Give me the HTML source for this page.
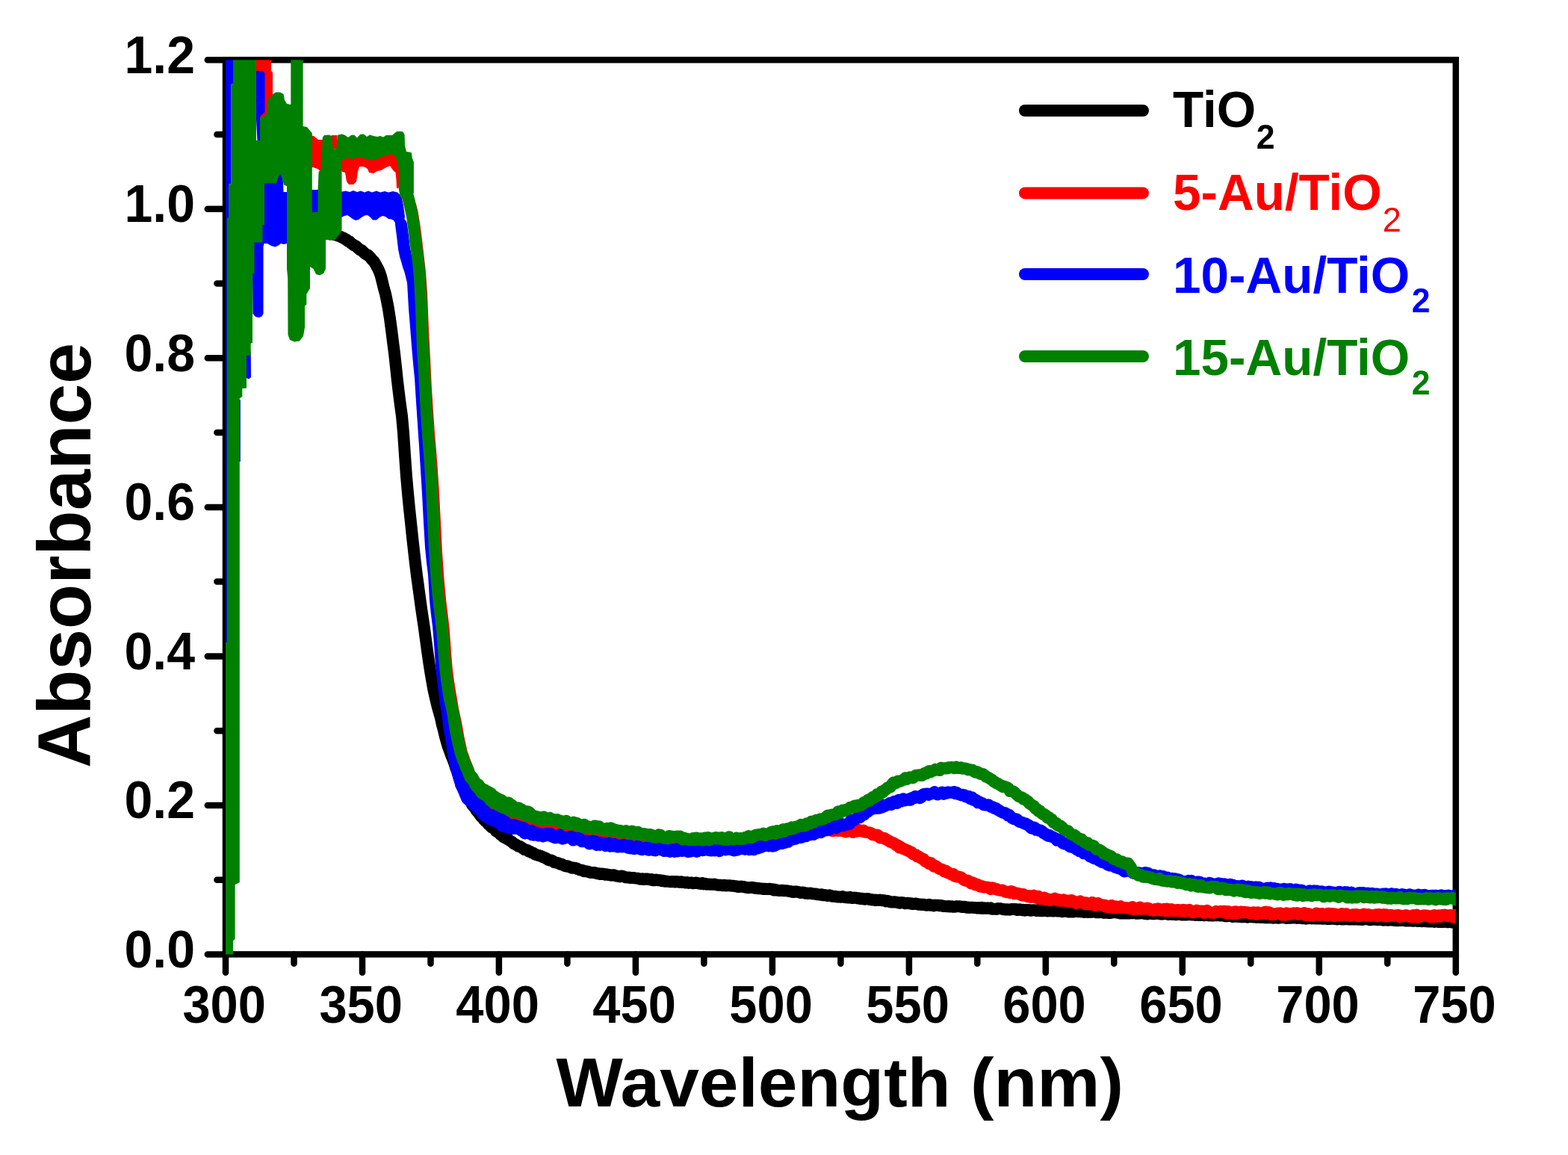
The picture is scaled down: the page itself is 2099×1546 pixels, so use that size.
<!DOCTYPE html>
<html><head><meta charset="utf-8"><title>Absorbance spectra</title>
<style>html,body{margin:0;padding:0;background:#fff;}svg{display:block;}</style>
</head><body>
<svg width="2099" height="1546" viewBox="0 0 2099 1546">
<defs><clipPath id="plotclip"><rect x="302" y="80.2" width="1646.8" height="1197.2"/></clipPath></defs>
<rect width="2099" height="1546" fill="#fff"/>
<rect x="302" y="80.2" width="1646.8" height="1197.2" fill="none" stroke="#000" stroke-width="8.5"/>
<path d="M302 1277.5H277.8M302 1177.7H290.4M302 1078H277.8M302 978.2H290.4M302 878.4H277.8M302 778.6H290.4M302 678.9H277.8M302 579.1H290.4M302 479.3H277.8M302 379.6H290.4M302 279.8H277.8M302 180H290.4M302 80.2H277.8M302 1277.5V1301.8M393.5 1277.5V1289.8M485 1277.5V1301.8M576.5 1277.5V1289.8M667.9 1277.5V1301.8M759.4 1277.5V1289.8M850.9 1277.5V1301.8M942.4 1277.5V1289.8M1033.9 1277.5V1301.8M1125.4 1277.5V1289.8M1216.9 1277.5V1301.8M1308.3 1277.5V1289.8M1399.8 1277.5V1301.8M1491.3 1277.5V1289.8M1582.8 1277.5V1301.8M1674.3 1277.5V1289.8M1765.8 1277.5V1301.8M1857.3 1277.5V1289.8M1948.8 1277.5V1301.8" stroke="#000" stroke-width="8.5" fill="none" stroke-linecap="round"/>
<g clip-path="url(#plotclip)" stroke-linejoin="round" stroke-linecap="round" fill="none">
<path d="M440 312.9 L442 313.5 L444 312.9 L446 313.7 L448 314 L450 314.5 L452 315.3 L454 316.1 L456 316.9 L458 317.9 L460 318.7 L462 320.2 L464 320.9 L466 323 L468 323.4 L470 325.6 L472 326.8 L474 328.4 L476 329.2 L478 330.7 L480 332.8 L482 334.4 L484 335 L486 337 L488 338.8 L490 340.5 L492 341.2 L494 342.9 L496 344.9 L498 347.8 L500 349.2 L502 352.3 L504 356.1 L506 359.5 L508 364.2 L510 370 L512 378.2 L514 386.3 L516 393.4 L518 403.1 L520 413.6 L522 426.6 L524 441.4 L526 457.4 L528 472.8 L530 491.2 L532 510 L534 526.8 L536 542.6 L538 556.9 L540 579.3 L542 609.5 L544 637.5 L546 660.3 L548 680.8 L550 699.5 L552 718.9 L554 736.6 L556 754.3 L558 770.5 L560 784.8 L562 799.7 L564 814.3 L566 827.8 L568 841.2 L570 856.2 L572 871 L574 884.8 L576 898 L578 909.6 L580 921.2 L582 930.3 L584 938.8 L586 947.1 L588 953.9 L590 961.2 L592 970.2 L594 977.7 L596 986.2 L598 993.3 L600 999.8 L602 1005.2 L604 1010.8 L606 1015.6 L608 1020.8 L610 1027.1 L612 1032.5 L614 1039.2 L616 1044.8 L618 1050.1 L620 1054.1 L622 1059.4 L624 1062.8 L626 1066.7 L628 1070 L630 1073.1 L632 1077 L634 1079.6 L636 1081.7 L638 1085.1 L640 1087.3 L642 1090 L644 1092.8 L646 1094.5 L648 1097.4 L650 1099.2 L652 1100.5 L654 1103.5 L656 1105.1 L658 1107.3 L660 1108.1 L662 1109.8 L664 1112.4 L666 1113.8 L668 1114.7 L670 1117.1 L672 1118.6 L674 1120.3 L676 1121.5 L678 1122.2 L680 1123.5 L682 1124.8 L684 1126 L686 1127.5 L688 1129.4 L690 1130.2 L692 1131.3 L694 1132.8 L696 1133 L698 1134.2 L700 1135.6 L702 1137.1 L704 1137.5 L706 1137.8 L708 1139.7 L710 1139.9 L712 1141.5 L714 1141.9 L716 1143.4 L718 1144.1 L720 1144.8 L722 1145.2 L724 1145.9 L726 1146.9 L728 1147.6 L730 1148.5 L732 1149.5 L734 1150.9 L736 1151.5 L738 1151.6 L740 1152.4 L742 1154.2 L744 1154.5 L746 1154.8 L748 1155.5 L750 1156.8 L752 1156.8 L754 1157.9 L756 1159 L758 1159.5 L760 1159.3 L762 1160.2 L764 1161 L766 1161.8 L768 1161.5 L770 1161.9 L772 1162.5 L774 1163.5 L776 1164.2 L778 1164.7 L780 1164.9 L782 1166.2 L784 1166.2 L786 1166.4 L788 1167.1 L790 1167.8 L792 1168.1 L794 1168 L796 1168.1 L798 1168.8 L800 1169.4 L802 1169.2 L804 1170.1 L806 1169.5 L808 1169.9 L810 1170.8 L812 1170.3 L814 1171 L816 1171.1 L818 1171.8 L820 1171.2 L822 1171.2 L824 1172.3 L826 1172.6 L828 1173 L830 1173.3 L832 1172.5 L834 1173 L836 1173.7 L838 1174.4 L840 1174.6 L842 1174.4 L844 1175.1 L846 1175 L848 1174.9 L850 1175.3 L852 1175.6 L854 1175.8 L856 1176.5 L858 1176.7 L860 1176.2 L862 1177.1 L864 1176.4 L866 1176.5 L868 1176.7 L870 1177.4 L872 1177 L874 1178.3 L876 1178.3 L878 1177.5 L880 1177.9 L882 1178.3 L884 1178.2 L886 1179.2 L888 1178.8 L890 1179.7 L892 1179.4 L894 1179.9 L896 1180.1 L898 1180.3 L900 1179.9 L902 1180.2 L904 1180.6 L906 1180.1 L908 1180.5 L910 1180.8 L912 1180.2 L914 1181.1 L916 1181 L918 1181.6 L920 1181.1 L922 1181.9 L924 1181.7 L926 1181.4 L928 1182.2 L930 1182.1 L932 1181.6 L934 1182.2 L936 1182.6 L938 1183 L940 1182.1 L942 1183.4 L944 1182.8 L946 1183.7 L948 1183.4 L950 1183.8 L952 1183.7 L954 1183.9 L956 1183.6 L958 1184.1 L960 1184.5 L962 1184.8 L964 1184.8 L966 1184.9 L968 1185.3 L970 1184.8 L972 1185.4 L974 1185.3 L976 1185.3 L978 1185.5 L980 1185.7 L982 1185.8 L984 1186.3 L986 1186.2 L988 1187 L990 1186.9 L992 1186.5 L994 1186.9 L996 1187 L998 1187.7 L1000 1188 L1002 1188.2 L1004 1188.1 L1006 1187.8 L1008 1187.9 L1010 1188.8 L1012 1188.6 L1014 1189.2 L1016 1189.1 L1018 1189.4 L1020 1189.4 L1022 1189.9 L1024 1189.8 L1026 1189.9 L1028 1189.9 L1030 1189.8 L1032 1190.3 L1034 1190.2 L1036 1191.5 L1038 1190.7 L1040 1191.6 L1042 1191.9 L1044 1191.9 L1046 1192 L1048 1191.7 L1050 1192.2 L1052 1192.3 L1054 1192.3 L1056 1193 L1058 1192.9 L1060 1193.8 L1062 1194 L1064 1193.4 L1066 1193.5 L1068 1193.8 L1070 1194.4 L1072 1194.9 L1074 1194.5 L1076 1194.7 L1078 1195.7 L1080 1195.4 L1082 1195.9 L1084 1195.6 L1086 1195.7 L1088 1196.4 L1090 1196.6 L1092 1196.4 L1094 1197.2 L1096 1197.4 L1098 1197.7 L1100 1197.3 L1102 1198.3 L1104 1197.9 L1106 1198.4 L1108 1199 L1110 1198.3 L1112 1198.8 L1114 1199.7 L1116 1199.9 L1118 1199.7 L1120 1200.3 L1122 1200.6 L1124 1200.6 L1126 1200.8 L1128 1200.1 L1130 1200.9 L1132 1201.2 L1134 1201.2 L1136 1201.6 L1138 1200.9 L1140 1201.9 L1142 1202 L1144 1201.6 L1146 1201.8 L1148 1202.4 L1150 1202.2 L1152 1203 L1154 1202.7 L1156 1203.3 L1158 1203.7 L1160 1203.1 L1162 1203 L1164 1204.1 L1166 1203.9 L1168 1204.6 L1170 1204.4 L1172 1205 L1174 1204.7 L1176 1204.9 L1178 1204.6 L1180 1205.2 L1182 1205 L1184 1205.4 L1186 1206.4 L1188 1205.8 L1190 1206.5 L1192 1207.3 L1194 1207.4 L1196 1207.6 L1198 1207.2 L1200 1207.7 L1202 1208.1 L1204 1208.8 L1206 1208 L1208 1208.2 L1210 1208.4 L1212 1209.2 L1214 1209 L1216 1208.7 L1218 1209.4 L1220 1209.2 L1222 1210.1 L1224 1209.7 L1226 1209.5 L1228 1210.3 L1230 1210.8 L1232 1210.4 L1234 1211 L1236 1210.8 L1238 1211 L1240 1211.7 L1242 1211.6 L1244 1210.8 L1246 1211.8 L1248 1211.6 L1250 1212.4 L1252 1211.6 L1254 1211.8 L1256 1211.7 L1258 1212.3 L1260 1212 L1262 1212.8 L1264 1213.1 L1266 1213.1 L1268 1213.3 L1270 1212.9 L1272 1213.6 L1274 1213.2 L1276 1213.8 L1278 1213.7 L1280 1213.2 L1282 1213.3 L1284 1213.3 L1286 1213.5 L1288 1214.1 L1290 1213.8 L1292 1213.8 L1294 1214.7 L1296 1214.4 L1298 1214.9 L1300 1214.7 L1302 1214.8 L1304 1214.9 L1306 1215 L1308 1215.5 L1310 1215.1 L1312 1215.8 L1314 1214.9 L1316 1215.9 L1318 1215.2 L1320 1215.9 L1322 1215.3 L1324 1216 L1326 1215.4 L1328 1216.7 L1330 1216.7 L1332 1216.7 L1334 1216.9 L1336 1216.1 L1338 1216.2 L1340 1216.3 L1342 1216.9 L1344 1217.3 L1346 1217.5 L1348 1217.3 L1350 1217.4 L1352 1217.7 L1354 1217.1 L1356 1217 L1358 1217 L1360 1217 L1362 1218 L1364 1217.2 L1366 1217.5 L1368 1218.2 L1370 1217.7 L1372 1218.6 L1374 1217.8 L1376 1218.2 L1378 1218 L1380 1218.8 L1382 1218.2 L1384 1218.3 L1386 1218.5 L1388 1219.1 L1390 1218.1 L1392 1219 L1394 1219.3 L1396 1218.3 L1398 1219 L1400 1218.8 L1402 1219.5 L1404 1219.2 L1406 1219.4 L1408 1219.2 L1410 1219.5 L1412 1219.2 L1414 1218.9 L1416 1219.6 L1418 1219.4 L1420 1219.7 L1422 1220.2 L1424 1219.7 L1426 1219.5 L1428 1219.8 L1430 1220.5 L1432 1220.6 L1434 1220.5 L1436 1220.6 L1438 1219.9 L1440 1219.8 L1442 1220 L1444 1220.2 L1446 1220 L1448 1220.6 L1450 1220.4 L1452 1221 L1454 1220.3 L1456 1221 L1458 1220.5 L1460 1220.9 L1462 1220.7 L1464 1220.4 L1466 1220.7 L1468 1221.2 L1470 1221.1 L1472 1221.2 L1474 1220.8 L1476 1221.3 L1478 1221.9 L1480 1221.7 L1482 1221.5 L1484 1222 L1486 1222 L1488 1221.7 L1490 1221.1 L1492 1221.2 L1494 1221.2 L1496 1221.7 L1498 1221.7 L1500 1222.5 L1502 1221.6 L1504 1222.6 L1506 1222.4 L1508 1222.5 L1510 1222.3 L1512 1222.4 L1514 1222.3 L1516 1221.7 L1518 1222.2 L1520 1222.4 L1522 1222.8 L1524 1222.5 L1526 1222.5 L1528 1222.2 L1530 1222.1 L1532 1223 L1534 1222.6 L1536 1223.4 L1538 1222.5 L1540 1222.7 L1542 1223 L1544 1223.3 L1546 1223 L1548 1222.7 L1550 1222.9 L1552 1223.2 L1554 1223.5 L1556 1223.6 L1558 1222.9 L1560 1222.8 L1562 1223.5 L1564 1223.9 L1566 1223 L1568 1223.8 L1570 1223.9 L1572 1223.7 L1574 1224.3 L1576 1224 L1578 1223.3 L1580 1223.9 L1582 1224.4 L1584 1224.4 L1586 1224.3 L1588 1224.4 L1590 1224.3 L1592 1224 L1594 1224.4 L1596 1224.6 L1598 1224.3 L1600 1224.9 L1602 1224.2 L1604 1224.9 L1606 1224.4 L1608 1225.1 L1610 1224.7 L1612 1225.3 L1614 1224.8 L1616 1224.7 L1618 1225.4 L1620 1225 L1622 1225.6 L1624 1225.6 L1626 1225.1 L1628 1225.2 L1630 1225.2 L1632 1225.2 L1634 1225.6 L1636 1225.3 L1638 1225.5 L1640 1226.2 L1642 1226.4 L1644 1225.7 L1646 1225.9 L1648 1226 L1650 1226.9 L1652 1226.8 L1654 1226.6 L1656 1226.4 L1658 1227.1 L1660 1226.7 L1662 1227.4 L1664 1227.2 L1666 1227 L1668 1226.7 L1670 1227.8 L1672 1226.9 L1674 1227 L1676 1227.3 L1678 1227.4 L1680 1227.1 L1682 1227.9 L1684 1227.3 L1686 1227.9 L1688 1228.1 L1690 1227.5 L1692 1228 L1694 1228.3 L1696 1228.2 L1698 1228.2 L1700 1227.9 L1702 1228.4 L1704 1228.7 L1706 1228.2 L1708 1228.6 L1710 1227.8 L1712 1228.8 L1714 1228.1 L1716 1228.3 L1718 1228.3 L1720 1228 L1722 1229.1 L1724 1228.5 L1726 1228.7 L1728 1228.7 L1730 1228.3 L1732 1228.4 L1734 1228.3 L1736 1228.9 L1738 1228.6 L1740 1228.7 L1742 1228.5 L1744 1229.3 L1746 1228.5 L1748 1229.6 L1750 1228.7 L1752 1229.2 L1754 1228.6 L1756 1229.5 L1758 1228.8 L1760 1229.3 L1762 1229.6 L1764 1228.9 L1766 1229.4 L1768 1229 L1770 1229.7 L1772 1229.7 L1774 1229.1 L1776 1230 L1778 1229 L1780 1230 L1782 1229.7 L1784 1229.6 L1786 1230 L1788 1230 L1790 1230.4 L1792 1229.6 L1794 1229.3 L1796 1230.4 L1798 1230.4 L1800 1230.3 L1802 1230.1 L1804 1230.3 L1806 1230.5 L1808 1230 L1810 1230.6 L1812 1230.6 L1814 1230.5 L1816 1230.3 L1818 1230.7 L1820 1229.9 L1822 1230.8 L1824 1231 L1826 1230.3 L1828 1230.2 L1830 1230.4 L1832 1230.5 L1834 1231.3 L1836 1230.9 L1838 1230.7 L1840 1230.5 L1842 1230.8 L1844 1231.2 L1846 1230.9 L1848 1231.1 L1850 1231.2 L1852 1231.7 L1854 1231.3 L1856 1231.2 L1858 1231.7 L1860 1231.2 L1862 1231.5 L1864 1231.4 L1866 1231.8 L1868 1232.2 L1870 1231.7 L1872 1232.2 L1874 1231.9 L1876 1232.1 L1878 1231.6 L1880 1232 L1882 1232.6 L1884 1232.3 L1886 1232.6 L1888 1232.3 L1890 1232.4 L1892 1232.8 L1894 1232 L1896 1232.6 L1898 1233.1 L1900 1232.7 L1902 1232.4 L1904 1233.2 L1906 1232.6 L1908 1233.2 L1910 1233 L1912 1233.6 L1914 1233.3 L1916 1233.6 L1918 1232.6 L1920 1233.9 L1922 1232.9 L1924 1233.2 L1926 1234 L1928 1233 L1930 1234 L1932 1234.1 L1934 1233.7 L1936 1233.5 L1938 1234.3 L1940 1233.9 L1942 1233.6 L1944 1234.6 L1946 1234.6 L1948 1234.2 L1950 1234.7" stroke="#000000" stroke-width="16"/>
<path d="M343 78 L363 78 L363 95 L365 97 L365 128 L360 135 L359 156 L355 156 L343 160Z" fill="#ff0000" stroke="none"/>
<path d="M414 181 L420 182 L426 187 L432 187 L432 224 L429 229 L425 226 L419 224 L414 224Z" fill="#ff0000" stroke="none"/>
<path d="M444 181 L451 181 L451 199 L447 200 L444 196Z" fill="#ff0000" stroke="none"/>
<path d="M455 205 L535 205 L535 228 L533 252 L531 252 L530 231 L527 229 L522 222 L517 224 L510 228 L505 229 L500 232 L494 231 L492 226 L487 223 L481 223 L479 230 L477 243 L473 247 L467 247 L464 243 L462 231 L458 230 L455 225Z" fill="#ff0000" stroke="none"/>
<path d="M534 213.8 L536 221.9 L538 233.8 L540 244.8 L542 252.3 L544 258.3 L546 264.3 L548 271.6 L550 277.5 L552 286.2 L554 298.6 L556 312.8 L558 329.8 L560 346.9 L562 364.5 L564 392 L566 440.8 L568 480 L570 520.8 L572 551.6 L574 580.2 L576 603.4 L578 629.4 L580 659.9 L582 699.3 L584 739.2 L586 768.1 L588 791.7 L590 811.3 L592 826.8 L594 844.9 L596 874.1 L598 897.6 L600 912.3 L602 925 L604 936.7 L606 948.6 L608 958.3 L610 967.2 L612 978.6 L614 989.8 L616 998.7 L618 1007.9 L620 1013.1 L622 1019.2 L624 1023.9 L626 1029.1 L628 1035.7 L630 1041.7 L632 1049.5 L634 1054.8 L636 1059 L638 1063.4 L640 1067.7 L642 1069.3 L644 1070.9 L646 1073.6 L648 1075.1 L650 1079.2 L652 1080.9 L654 1082.1 L656 1083.2 L658 1085.1 L660 1085 L662 1086.4 L664 1088.1 L666 1088.6 L668 1088.7 L670 1091.7 L672 1091.2 L674 1092 L676 1092.3 L678 1092.8 L680 1093.7 L682 1095.5 L684 1095.8 L686 1095.6 L688 1095.3 L690 1097.8 L692 1097.1 L694 1098.4 L696 1097.6 L698 1099.8 L700 1099.7 L702 1100.6 L704 1101.1 L706 1101.7 L708 1102.9 L710 1104.7 L712 1103.3 L714 1104.5 L716 1104.6 L718 1106.9 L720 1107.3 L722 1106.7 L724 1107.6 L726 1108.6 L728 1109 L730 1108.1 L732 1110.2 L734 1110.2 L736 1109 L738 1111 L740 1111.1 L742 1111.5 L744 1111.2 L746 1110.8 L748 1112.9 L750 1112.5 L752 1112.4 L754 1112.6 L756 1114.6 L758 1113.9 L760 1114.7 L762 1115.3 L764 1116.3 L766 1116.3 L768 1115.7 L770 1117.2 L772 1117.5 L774 1118.2 L776 1119.1 L778 1118.6 L780 1118.9 L782 1119.3 L784 1120.2 L786 1120 L788 1121.9 L790 1121.5 L792 1121.6 L794 1121.8 L796 1122.6 L798 1122.8 L800 1123.3 L802 1124.1 L804 1124.7 L806 1125.7 L808 1126.4 L810 1124.5 L812 1125.2 L814 1126.5 L816 1125.7 L818 1127.7 L820 1126.4 L822 1128 L824 1128.1 L826 1128.7 L828 1127.1 L830 1127.8 L832 1129.2 L834 1128 L836 1128.1 L838 1129.1 L840 1129.9 L842 1128.8 L844 1129 L846 1129.1 L848 1130.1 L850 1130.9 L852 1129.9 L854 1131.7 L856 1130.8 L858 1131.4 L860 1130.7 L862 1131.6 L864 1132.6 L866 1131.5 L868 1131 L870 1131.7 L872 1131.9 L874 1132.2 L876 1132.3 L878 1131.3 L880 1131.7 L882 1132.5 L884 1133.3 L886 1133.5 L888 1133.7 L890 1133.1 L892 1134.3 L894 1132.9 L896 1133.4 L898 1134.1 L900 1134.5 L902 1133.5 L904 1134.7 L906 1133.8 L908 1134.5 L910 1132.9 L912 1133 L914 1135.3 L916 1133.4 L918 1134.8 L920 1134 L922 1133.8 L924 1134.3 L926 1135.7 L928 1134.9 L930 1135.8 L932 1135.3 L934 1134.8 L936 1134.9 L938 1134.2 L940 1133.7 L942 1134.8 L944 1135.1 L946 1135.9 L948 1135.4 L950 1135.8 L952 1136 L954 1136 L956 1135.7 L958 1134 L960 1134.4 L962 1134 L964 1135.5 L966 1135.2 L968 1134 L970 1134.4 L972 1134.8 L974 1134.7 L976 1133.1 L978 1134.2 L980 1134.2 L982 1132.1 L984 1132.1 L986 1132.7 L988 1132 L990 1133.4 L992 1132.8 L994 1132.6 L996 1132.5 L998 1131.3 L1000 1130.8 L1002 1131.6 L1004 1130.9 L1006 1131.9 L1008 1131 L1010 1130.1 L1012 1131 L1014 1129.6 L1016 1128.8 L1018 1130 L1020 1129 L1022 1128.2 L1024 1128.9 L1026 1129.3 L1028 1127.2 L1030 1128.2 L1032 1127.7 L1034 1125.9 L1036 1127.2 L1038 1126 L1040 1124.8 L1042 1125.4 L1044 1124.4 L1046 1123.7 L1048 1123.1 L1050 1122.9 L1052 1122.9 L1054 1122.9 L1056 1120.9 L1058 1121.8 L1060 1119.8 L1062 1119.3 L1064 1119.9 L1066 1119.7 L1068 1119.3 L1070 1117.9 L1072 1116.9 L1074 1115.4 L1076 1116 L1078 1114.7 L1080 1115 L1082 1114.8 L1084 1115 L1086 1113.3 L1088 1114.5 L1090 1114.1 L1092 1113.3 L1094 1112.6 L1096 1112.3 L1098 1112.4 L1100 1112.3 L1102 1111.9 L1104 1111.3 L1106 1110 L1108 1111.3 L1110 1110.7 L1112 1110.4 L1114 1112.2 L1116 1112.2 L1118 1111.6 L1120 1111.6 L1122 1111.9 L1124 1111.5 L1126 1112 L1128 1112.2 L1130 1111.3 L1132 1113.6 L1134 1111.6 L1136 1112.6 L1138 1112 L1140 1112.3 L1142 1114.1 L1144 1112.5 L1146 1113 L1148 1111.1 L1150 1111 L1152 1112.4 L1154 1112.7 L1156 1111.6 L1158 1113.8 L1160 1113.8 L1162 1114.1 L1164 1114.6 L1166 1115.2 L1168 1117.3 L1170 1117.5 L1172 1117.9 L1174 1117.5 L1176 1118.8 L1178 1121.4 L1180 1121.3 L1182 1121.8 L1184 1121.9 L1186 1123.5 L1188 1124.6 L1190 1125.5 L1192 1127 L1194 1127.7 L1196 1128.4 L1198 1129.6 L1200 1131.6 L1202 1131.6 L1204 1134.7 L1206 1133.9 L1208 1135.5 L1210 1136.4 L1212 1137.1 L1214 1138.2 L1216 1138.9 L1218 1140.1 L1220 1140.7 L1222 1143.1 L1224 1144 L1226 1144.2 L1228 1146.6 L1230 1146.5 L1232 1148.2 L1234 1149.1 L1236 1149.8 L1238 1152.5 L1240 1153.5 L1242 1154.7 L1244 1156.1 L1246 1155.1 L1248 1157.4 L1250 1159.6 L1252 1158.8 L1254 1160.2 L1256 1161.9 L1258 1163.3 L1260 1163.4 L1262 1164.3 L1264 1166.4 L1266 1165.5 L1268 1168.2 L1270 1168.3 L1272 1169.6 L1274 1170.7 L1276 1170.1 L1278 1172.8 L1280 1173.5 L1282 1173.3 L1284 1173.7 L1286 1174.2 L1288 1175.7 L1290 1177.5 L1292 1178.7 L1294 1178.4 L1296 1179 L1298 1180.2 L1300 1182.6 L1302 1181.3 L1304 1182.3 L1306 1184.4 L1308 1183.7 L1310 1184.7 L1312 1186.7 L1314 1186 L1316 1187.3 L1318 1187.7 L1320 1187.4 L1322 1187.7 L1324 1188.2 L1326 1190.2 L1328 1188.3 L1330 1188.8 L1332 1189.9 L1334 1189.9 L1336 1191.2 L1338 1191.5 L1340 1191.7 L1342 1191.6 L1344 1192.6 L1346 1193.8 L1348 1194.3 L1350 1193.8 L1352 1195.1 L1354 1193.1 L1356 1193.9 L1358 1196.1 L1360 1195.4 L1362 1195.6 L1364 1196.8 L1366 1196.5 L1368 1198.6 L1370 1197.3 L1372 1199.1 L1374 1198.7 L1376 1200.1 L1378 1199.1 L1380 1201 L1382 1200.1 L1384 1198.6 L1386 1201.3 L1388 1202.1 L1390 1199.8 L1392 1203.1 L1394 1202.1 L1396 1203 L1398 1201.4 L1400 1204.3 L1402 1203.5 L1404 1203.4 L1406 1205.1 L1408 1203.9 L1410 1204.1 L1412 1202.6 L1414 1204.6 L1416 1205.5 L1418 1204.4 L1420 1205.7 L1422 1205.5 L1424 1204.4 L1426 1205.9 L1428 1205.8 L1430 1205.5 L1432 1206.9 L1434 1204.9 L1436 1206.3 L1438 1206.7 L1440 1208.8 L1442 1208 L1444 1208 L1446 1206.5 L1448 1207.7 L1450 1207.7 L1452 1210 L1454 1208.5 L1456 1210.2 L1458 1209.7 L1460 1210.8 L1462 1207.9 L1464 1211.4 L1466 1211.8 L1468 1209.2 L1470 1209.1 L1472 1210.3 L1474 1211.6 L1476 1211.6 L1478 1211.5 L1480 1213.5 L1482 1212.5 L1484 1214.1 L1486 1213.1 L1488 1211.9 L1490 1215 L1492 1215.3 L1494 1213.5 L1496 1214.9 L1498 1214.6 L1500 1213.2 L1502 1214.8 L1504 1215.2 L1506 1215.1 L1508 1215.1 L1510 1215.4 L1512 1216 L1514 1216.3 L1516 1214 L1518 1217.1 L1520 1215.6 L1522 1216.6 L1524 1215.6 L1526 1214.5 L1528 1216.8 L1530 1215.9 L1532 1216.6 L1534 1215.7 L1536 1215.6 L1538 1216 L1540 1218.1 L1542 1218.5 L1544 1218.8 L1546 1216.9 L1548 1218.3 L1550 1216.2 L1552 1218.4 L1554 1217.4 L1556 1219 L1558 1216.8 L1560 1219.1 L1562 1216.5 L1564 1219.4 L1566 1218 L1568 1217.1 L1570 1217.8 L1572 1219.4 L1574 1218.6 L1576 1217.9 L1578 1218 L1580 1219.8 L1582 1219.7 L1584 1217.7 L1586 1220.5 L1588 1218.2 L1590 1218.7 L1592 1217.9 L1594 1219.8 L1596 1221.1 L1598 1221.5 L1600 1219.9 L1602 1218.6 L1604 1220 L1606 1219.5 L1608 1219.6 L1610 1219.4 L1612 1222 L1614 1220.1 L1616 1218.7 L1618 1220.6 L1620 1221.4 L1622 1221.8 L1624 1221.7 L1626 1221.5 L1628 1219.8 L1630 1220.4 L1632 1220.8 L1634 1219.7 L1636 1220.8 L1638 1219.7 L1640 1219.7 L1642 1222.4 L1644 1220.1 L1646 1221.2 L1648 1221.8 L1650 1223 L1652 1220.7 L1654 1220.3 L1656 1222.9 L1658 1220.9 L1660 1220.8 L1662 1220.4 L1664 1221.5 L1666 1220.8 L1668 1221.3 L1670 1221.2 L1672 1222.3 L1674 1221.7 L1676 1222.6 L1678 1221.3 L1680 1221.4 L1682 1223.9 L1684 1221.2 L1686 1223.1 L1688 1223 L1690 1222.8 L1692 1221 L1694 1220.6 L1696 1223.3 L1698 1221 L1700 1221.6 L1702 1224.3 L1704 1224.3 L1706 1224.2 L1708 1223 L1710 1222.6 L1712 1222.7 L1714 1222.3 L1716 1224.6 L1718 1224.1 L1720 1224.8 L1722 1222.3 L1724 1223.4 L1726 1223.8 L1728 1222.8 L1730 1223.5 L1732 1222.2 L1734 1222.7 L1736 1222.1 L1738 1223.9 L1740 1222.9 L1742 1223.3 L1744 1223.1 L1746 1222 L1748 1225.1 L1750 1224.5 L1752 1223.1 L1754 1225.2 L1756 1224.5 L1758 1225.7 L1760 1223.8 L1762 1222.6 L1764 1222.7 L1766 1224.9 L1768 1224.4 L1770 1223.1 L1772 1224.4 L1774 1224.3 L1776 1225.6 L1778 1222.7 L1780 1223 L1782 1224.2 L1784 1223.1 L1786 1226.2 L1788 1223.4 L1790 1225 L1792 1224.4 L1794 1225.6 L1796 1223 L1798 1224 L1800 1224.6 L1802 1223.3 L1804 1225.3 L1806 1224.9 L1808 1226 L1810 1224.6 L1812 1224.1 L1814 1224.3 L1816 1224 L1818 1226.5 L1820 1226.1 L1822 1224.5 L1824 1224.9 L1826 1223.7 L1828 1225.5 L1830 1226 L1832 1224.2 L1834 1225 L1836 1225.9 L1838 1225.1 L1840 1225.5 L1842 1224.2 L1844 1226.4 L1846 1224 L1848 1225.3 L1850 1224.7 L1852 1224.1 L1854 1226.8 L1856 1224.5 L1858 1225.4 L1860 1226 L1862 1224.8 L1864 1225.6 L1866 1225.8 L1868 1225.5 L1870 1225.2 L1872 1224.9 L1874 1227.2 L1876 1225.8 L1878 1226.5 L1880 1226 L1882 1225.1 L1884 1225.8 L1886 1227.1 L1888 1227.3 L1890 1227.5 L1892 1225 L1894 1225.4 L1896 1224.7 L1898 1227.8 L1900 1226.5 L1902 1226.8 L1904 1225.9 L1906 1225.2 L1908 1225.7 L1910 1225.4 L1912 1226.3 L1914 1227.4 L1916 1227.4 L1918 1225.5 L1920 1225.1 L1922 1227.1 L1924 1226 L1926 1225.2 L1928 1226.7 L1930 1225 L1932 1224.9 L1934 1224.6 L1936 1225.3 L1938 1226.3 L1940 1225.2 L1942 1224.9 L1944 1226.4 L1946 1227.9 L1948 1224.7 L1950 1225.5" stroke="#ff0000" stroke-width="16"/>
<path d="M302 78 L312 78 L312 112 L309.6 113 L309.6 246 L306 247 L306 291 L303.7 292 L303.7 860 L302 860Z" fill="#0000ff" stroke="none"/>
<path d="M343 95 L352 95 L354.5 98 L354.5 150 L350 154 L348 157 L348 188 L344.5 188 L343 160Z" fill="#0000ff" stroke="none"/>
<path d="M338 320 L352 300 L354 240 L370 240 L373 234 L376 230.5 L378.5 235 L379.5 257 L384 257 L384.5 300 L384 326 L380 327 L376 326 L372 329 L368 330.5 L363 329 L358 326 L353.5 326 L352.5 330 L352.5 420 L350 424 L346 425 L342 424 L338.5 420 L338 366Z" fill="#0000ff" stroke="none"/>
<path d="M330 470 L335.7 470 L336 505 L333 507.5 L330 506Z" fill="#0000ff" stroke="none"/>
<path d="M319.5 535 L321.8 535 L321.8 618 L319.5 618Z" fill="#0000ff" stroke="none"/>
<path d="M384 254 L400 254 L417 254 L426 254 L440 255 L452 256 L458 256.5 L463 255.5 L468 257 L473 255 L478 257 L483 255.5 L488 257.5 L493 255.5 L498 257.5 L504 255.5 L509 257.5 L515 256 L520 257.5 L526 256 L532 257.5 L537 262 L540 275 L542 290 L540 300 L530 300 L527 295 L524 293.5 L520 293 L516 290 L512 289 L508 291 L504 294.5 L499 294.5 L496 291 L492 288 L488 288.5 L484 291 L480 294 L476 295 L472 293 L468 290 L465 288 L461 289 L457 291 L440 292 L426 290 L418 285 L384 290Z" fill="#0000ff" stroke="none"/>
<path d="M537 300.1 L539 315.5 L541 332.6 L543 342.3 L545 349.1 L547 356 L549 361.5 L551 369.4 L553 377.6 L555 412.9 L557 437.1 L559 462.9 L561 485.6 L563 505.6 L565 537.4 L567 567.8 L569 596.8 L571 628.4 L573 660.8 L575 699 L577 732.5 L579 753 L581 768.7 L583 803.2 L585 822.1 L587 837.9 L589 862.2 L591 890.7 L593 909.7 L595 926.3 L597 941.2 L599 954.2 L601 967.5 L603 980.1 L605 991.4 L607 1001.9 L609 1013.3 L611 1022.1 L613 1029.5 L615 1036.4 L617 1043.8 L619 1049.9 L621 1054 L623 1058.4 L625 1062.8 L627 1067.9 L629 1069.3 L631 1070.2 L633 1072.4 L635 1075.3 L637 1075.8 L639 1077.5 L641 1081 L643 1080.8 L645 1084.8 L647 1086 L649 1089.3 L651 1091 L653 1092 L655 1093.3 L657 1092.8 L659 1095.5 L661 1094.8 L663 1097.1 L665 1096.8 L667 1098.3 L669 1097.3 L671 1099.2 L673 1103.9 L675 1101 L677 1104.4 L679 1105.2 L681 1106.5 L683 1106.1 L685 1107.6 L687 1105.6 L689 1106.2 L691 1107.4 L693 1107.6 L695 1107.8 L697 1108.4 L699 1111 L701 1109.6 L703 1114.1 L705 1113.3 L707 1113.1 L709 1114.5 L711 1112.7 L713 1116.6 L715 1116.6 L717 1116.4 L719 1115.4 L721 1117.6 L723 1117.4 L725 1117.2 L727 1118.7 L729 1117.6 L731 1116.4 L733 1117.6 L735 1116 L737 1116.3 L739 1119.3 L741 1119.8 L743 1121.1 L745 1120.8 L747 1119.5 L749 1117.5 L751 1119.8 L753 1122.4 L755 1122 L757 1120.8 L759 1121 L761 1120.1 L763 1120.2 L765 1120.1 L767 1124.6 L769 1123.7 L771 1121.5 L773 1123.3 L775 1121.9 L777 1123.2 L779 1126.2 L781 1126.3 L783 1125.8 L785 1125.2 L787 1127.5 L789 1129.5 L791 1127.2 L793 1125.6 L795 1125.9 L797 1126.3 L799 1131 L801 1129.1 L803 1130.9 L805 1127.8 L807 1128.5 L809 1130.9 L811 1132.2 L813 1129.6 L815 1128.4 L817 1132.7 L819 1130 L821 1132.5 L823 1129.7 L825 1132.7 L827 1133.6 L829 1133.2 L831 1131.6 L833 1133.6 L835 1130.8 L837 1131.9 L839 1132.6 L841 1135.1 L843 1131.6 L845 1135.5 L847 1135.2 L849 1136.3 L851 1133.5 L853 1132.8 L855 1133.2 L857 1136.4 L859 1137.3 L861 1136.1 L863 1135.2 L865 1134.5 L867 1137.4 L869 1137.8 L871 1134.1 L873 1134.9 L875 1138.1 L877 1138.4 L879 1135.9 L881 1135.8 L883 1136.7 L885 1137.4 L887 1135.3 L889 1139.1 L891 1137.7 L893 1138.9 L895 1136.3 L897 1139.9 L899 1138.9 L901 1136.9 L903 1139.9 L905 1138.7 L907 1139.5 L909 1135.5 L911 1135.6 L913 1139 L915 1136.9 L917 1138 L919 1136.2 L921 1140.3 L923 1137.9 L925 1139.6 L927 1135.8 L929 1137.9 L931 1135.8 L933 1139.9 L935 1137.7 L937 1135.9 L939 1135.9 L941 1138.2 L943 1135.9 L945 1136.4 L947 1137.7 L949 1138 L951 1138.4 L953 1138.5 L955 1137.3 L957 1138.4 L959 1136.1 L961 1136.7 L963 1139.2 L965 1135.9 L967 1136.2 L969 1136.3 L971 1137.3 L973 1134.9 L975 1135 L977 1137 L979 1135.5 L981 1137.9 L983 1138.4 L985 1137.2 L987 1137.7 L989 1136.1 L991 1134.3 L993 1136.1 L995 1135.7 L997 1136.7 L999 1134.3 L1001 1134.6 L1003 1137.3 L1005 1134.4 L1007 1134.9 L1009 1137.3 L1011 1133.8 L1013 1132.9 L1015 1135.3 L1017 1134.3 L1019 1134.1 L1021 1131 L1023 1132.4 L1025 1130 L1027 1130.8 L1029 1132.6 L1031 1129 L1033 1129.7 L1035 1132.6 L1037 1132 L1039 1129.2 L1041 1130 L1043 1129 L1045 1127.7 L1047 1129.1 L1049 1125.3 L1051 1127.9 L1053 1123.5 L1055 1126.8 L1057 1125.2 L1059 1123.4 L1061 1123.8 L1063 1122 L1065 1122.8 L1067 1118.9 L1069 1120.1 L1071 1121.2 L1073 1120.8 L1075 1116.8 L1077 1116.5 L1079 1119.2 L1081 1116.1 L1083 1114.4 L1085 1117.3 L1087 1115.6 L1089 1116.9 L1091 1115.3 L1093 1115 L1095 1113.9 L1097 1112.4 L1099 1114.2 L1101 1112 L1103 1111.7 L1105 1111.5 L1107 1108 L1109 1110.7 L1111 1110 L1113 1108 L1115 1107.9 L1117 1105.5 L1119 1108.2 L1121 1105.1 L1123 1106.3 L1125 1104 L1127 1103.2 L1129 1105 L1131 1103.7 L1133 1103.7 L1135 1103.2 L1137 1102.9 L1139 1097.8 L1141 1099 L1143 1097.6 L1145 1096.7 L1147 1095 L1149 1094 L1151 1094.3 L1153 1091.4 L1155 1090.8 L1157 1090.4 L1159 1086.8 L1161 1087.2 L1163 1084.8 L1165 1084 L1167 1082.5 L1169 1082.4 L1171 1081.6 L1173 1082 L1175 1081.4 L1177 1081.7 L1179 1079.6 L1181 1080.6 L1183 1077.8 L1185 1078.6 L1187 1077.2 L1189 1076.9 L1191 1074.9 L1193 1077 L1195 1075.7 L1197 1072.7 L1199 1073.7 L1201 1075 L1203 1070.7 L1205 1071.3 L1207 1072.5 L1209 1069.3 L1211 1071.6 L1213 1070.5 L1215 1070.7 L1217 1069.6 L1219 1070.7 L1221 1068 L1223 1068.4 L1225 1066 L1227 1067.4 L1229 1066.5 L1231 1068.1 L1233 1067.4 L1235 1063.8 L1237 1062.9 L1239 1062.6 L1241 1062.4 L1243 1063.8 L1245 1062.8 L1247 1062.4 L1249 1061.9 L1251 1060.2 L1253 1061.5 L1255 1063.5 L1257 1062.8 L1259 1061.8 L1261 1060.5 L1263 1062.9 L1265 1061.1 L1267 1061.8 L1269 1060.3 L1271 1060.7 L1273 1060.8 L1275 1061 L1277 1059.9 L1279 1062.3 L1281 1061.1 L1283 1063 L1285 1063.6 L1287 1064.5 L1289 1063.7 L1291 1064.4 L1293 1066.5 L1295 1066 L1297 1066 L1299 1069.2 L1301 1067.2 L1303 1070.9 L1305 1070 L1307 1071.2 L1309 1074.1 L1311 1073.3 L1313 1075.1 L1315 1075 L1317 1077.4 L1319 1077.6 L1321 1077.7 L1323 1077.2 L1325 1078.9 L1327 1080.1 L1329 1080.3 L1331 1081.9 L1333 1081.7 L1335 1083.5 L1337 1084.5 L1339 1085.8 L1341 1087 L1343 1087.9 L1345 1087.9 L1347 1089 L1349 1091.4 L1351 1090.9 L1353 1093.3 L1355 1095.2 L1357 1096.2 L1359 1096.1 L1361 1096.5 L1363 1098.7 L1365 1100 L1367 1100.6 L1369 1101.1 L1371 1102.5 L1373 1102.3 L1375 1103.9 L1377 1104.4 L1379 1107 L1381 1108.8 L1383 1107.2 L1385 1107.7 L1387 1110.8 L1389 1110.5 L1391 1111.9 L1393 1111.4 L1395 1112.7 L1397 1115.2 L1399 1115.9 L1401 1117.6 L1403 1118.9 L1405 1118 L1407 1119.7 L1409 1120.2 L1411 1121.3 L1413 1122 L1415 1124.8 L1417 1124.6 L1419 1124.1 L1421 1126.9 L1423 1128.7 L1425 1129.5 L1427 1129.4 L1429 1128.7 L1431 1132.2 L1433 1133.5 L1435 1133.9 L1437 1134 L1439 1134.9 L1441 1137 L1443 1136 L1445 1139.2 L1447 1139.3 L1449 1139 L1451 1142.3 L1453 1142 L1455 1142.1 L1457 1143.3 L1459 1146.4 L1461 1145.3 L1463 1148.1 L1465 1149.1 L1467 1147.8 L1469 1149.9 L1471 1151.9 L1473 1151.9 L1475 1154 L1477 1153.4 L1479 1155.1 L1481 1154.7 L1483 1157.6 L1485 1158.4 L1487 1158.4 L1489 1158.5 L1491 1159.4 L1493 1161 L1495 1160.4 L1497 1162.4 L1499 1162.6 L1501 1163.6 L1503 1164.3 L1505 1166.6 L1507 1165.1 L1509 1165.7 L1511 1165.9 L1513 1165.7 L1515 1167.2 L1517 1168.7 L1519 1169.1 L1521 1168 L1523 1168 L1525 1169.6 L1527 1168.7 L1529 1169 L1531 1169.5 L1533 1168 L1535 1170.6 L1537 1168.8 L1539 1170.5 L1541 1172.1 L1543 1171.4 L1545 1171.2 L1547 1172.9 L1549 1173.9 L1551 1173.5 L1553 1172.3 L1555 1175.2 L1557 1173 L1559 1175.4 L1561 1176.5 L1563 1174.6 L1565 1176.1 L1567 1177.1 L1569 1175.8 L1571 1176.4 L1573 1176.2 L1575 1176.9 L1577 1177.1 L1579 1177.9 L1581 1179.6 L1583 1179.7 L1585 1180.2 L1587 1180.1 L1589 1180.7 L1591 1179 L1593 1180.4 L1595 1179 L1597 1180.6 L1599 1181.8 L1601 1180.8 L1603 1180.5 L1605 1180.6 L1607 1181.1 L1609 1182.8 L1611 1183.1 L1613 1182.6 L1615 1183.5 L1617 1183 L1619 1181.8 L1621 1182.4 L1623 1183.5 L1625 1183.6 L1627 1183.7 L1629 1183.3 L1631 1182.5 L1633 1185.1 L1635 1183.1 L1637 1185.6 L1639 1183.2 L1641 1186 L1643 1184.4 L1645 1185.9 L1647 1183.7 L1649 1185.2 L1651 1184.8 L1653 1186.3 L1655 1186.4 L1657 1186 L1659 1186.9 L1661 1187.9 L1663 1185.5 L1665 1187.1 L1667 1187.6 L1669 1187.7 L1671 1186.7 L1673 1188.7 L1675 1187 L1677 1189 L1679 1188.1 L1681 1187.3 L1683 1189.5 L1685 1187.4 L1687 1189.7 L1689 1189.3 L1691 1190.2 L1693 1190.2 L1695 1189.1 L1697 1188.5 L1699 1189 L1701 1188.3 L1703 1190.4 L1705 1188.9 L1707 1189.3 L1709 1189.6 L1711 1190.2 L1713 1191.2 L1715 1190.6 L1717 1190.9 L1719 1189.8 L1721 1190.6 L1723 1190.4 L1725 1192.1 L1727 1190.1 L1729 1192 L1731 1192.3 L1733 1191.9 L1735 1190.6 L1737 1191.3 L1739 1191.4 L1741 1191.6 L1743 1191.7 L1745 1193.9 L1747 1193.5 L1749 1193.9 L1751 1193.5 L1753 1192.5 L1755 1194.4 L1757 1193.1 L1759 1192.4 L1761 1194.1 L1763 1192.8 L1765 1194.5 L1767 1194.4 L1769 1193.2 L1771 1193.8 L1773 1194.6 L1775 1194.6 L1777 1194.3 L1779 1193.4 L1781 1193.9 L1783 1195 L1785 1194.4 L1787 1195.3 L1789 1195.3 L1791 1194.4 L1793 1193.7 L1795 1195.5 L1797 1194.7 L1799 1195.3 L1801 1194.1 L1803 1194.3 L1805 1195.2 L1807 1196 L1809 1194.5 L1811 1196.4 L1813 1196.8 L1815 1196.3 L1817 1196.6 L1819 1195.2 L1821 1194.9 L1823 1195.6 L1825 1195.1 L1827 1196 L1829 1197.1 L1831 1195.8 L1833 1197.5 L1835 1196.5 L1837 1195.7 L1839 1197.2 L1841 1196.6 L1843 1196.4 L1845 1197 L1847 1198.5 L1849 1197.8 L1851 1196.6 L1853 1198.5 L1855 1196.4 L1857 1197.1 L1859 1197.1 L1861 1198.9 L1863 1196.2 L1865 1198.1 L1867 1197.8 L1869 1196.8 L1871 1198.3 L1873 1198.8 L1875 1198.8 L1877 1196.9 L1879 1199 L1881 1197.8 L1883 1199.3 L1885 1198.5 L1887 1197.2 L1889 1199.2 L1891 1198.7 L1893 1198.5 L1895 1199.1 L1897 1198.6 L1899 1197.5 L1901 1200 L1903 1198.3 L1905 1198.3 L1907 1197.7 L1909 1199.7 L1911 1200.3 L1913 1199.1 L1915 1200.1 L1917 1198.8 L1919 1199 L1921 1198.8 L1923 1198.8 L1925 1199.6 L1927 1199 L1929 1198.3 L1931 1200.1 L1933 1199.1 L1935 1199.4 L1937 1198.9 L1939 1198.5 L1941 1200.3 L1943 1199.6 L1945 1201.1 L1947 1198.6 L1949 1200.9 L1950 1198.6" stroke="#0000ff" stroke-width="16"/>
<path d="M601 967.5 L603 980.1 L605 991.4 L607 1001.9" stroke="#0000ff" stroke-width="17"/>
<path d="M607 1001.9 L609 1013.3 L611 1022.1 L613 1029.5" stroke="#0000ff" stroke-width="18.5"/>
<path d="M613 1029.5 L615 1036.4 L617 1043.8 L619 1049.9" stroke="#0000ff" stroke-width="19.3"/>
<path d="M619 1049.9 L621 1054 L623 1058.4 L625 1062.8" stroke="#0000ff" stroke-width="19.8"/>
<path d="M625 1062.8 L627 1067.9 L629 1069.3 L631 1070.2" stroke="#0000ff" stroke-width="20"/>
<path d="M631 1070.2 L633 1072.4 L635 1075.3 L637 1075.8" stroke="#0000ff" stroke-width="20"/>
<path d="M637 1075.8 L639 1077.5 L641 1081 L643 1080.8" stroke="#0000ff" stroke-width="20"/>
<path d="M643 1080.8 L645 1084.8 L647 1086 L649 1089.3" stroke="#0000ff" stroke-width="20"/>
<path d="M649 1089.3 L651 1091 L653 1092 L655 1093.3" stroke="#0000ff" stroke-width="20"/>
<path d="M655 1093.3 L657 1092.8 L659 1095.5 L661 1094.8" stroke="#0000ff" stroke-width="20"/>
<path d="M661 1094.8 L663 1097.1 L665 1096.8 L667 1098.3" stroke="#0000ff" stroke-width="19.9"/>
<path d="M667 1098.3 L669 1097.3 L671 1099.2 L673 1103.9" stroke="#0000ff" stroke-width="19.7"/>
<path d="M673 1103.9 L675 1101 L677 1104.4 L679 1105.2" stroke="#0000ff" stroke-width="19.5"/>
<path d="M679 1105.2 L681 1106.5 L683 1106.1 L685 1107.6" stroke="#0000ff" stroke-width="19.3"/>
<path d="M685 1107.6 L687 1105.6 L689 1106.2 L691 1107.4" stroke="#0000ff" stroke-width="19.1"/>
<path d="M691 1107.4 L693 1107.6 L695 1107.8 L697 1108.4" stroke="#0000ff" stroke-width="18.8"/>
<path d="M697 1108.4 L699 1111 L701 1109.6 L703 1114.1" stroke="#0000ff" stroke-width="18.5"/>
<path d="M703 1114.1 L705 1113.3 L707 1113.1 L709 1114.5" stroke="#0000ff" stroke-width="18.2"/>
<path d="M709 1114.5 L711 1112.7 L713 1116.6 L715 1116.6" stroke="#0000ff" stroke-width="17.9"/>
<path d="M715 1116.6 L717 1116.4 L719 1115.4 L721 1117.6" stroke="#0000ff" stroke-width="17.6"/>
<path d="M721 1117.6 L723 1117.4 L725 1117.2 L727 1118.7" stroke="#0000ff" stroke-width="17.4"/>
<path d="M727 1118.7 L729 1117.6 L731 1116.4 L733 1117.6" stroke="#0000ff" stroke-width="17.1"/>
<path d="M733 1117.6 L735 1116 L737 1116.3 L739 1119.3" stroke="#0000ff" stroke-width="16.9"/>
<path d="M739 1119.3 L741 1119.8 L743 1121.1 L745 1120.8" stroke="#0000ff" stroke-width="16.7"/>
<path d="M745 1120.8 L747 1119.5 L749 1117.5 L751 1119.8" stroke="#0000ff" stroke-width="16.4"/>
<path d="M751 1119.8 L753 1122.4 L755 1122 L757 1120.8" stroke="#0000ff" stroke-width="16.2"/>
<path d="M312 78 L343 78 L343 188 L348 188 L348 157 L354.5 155 L357 151 L358.5 134 L362 130 L365.5 126 L369 123.5 L375 123.5 L379.5 126 L381 134 L384 139 L389.3 140 L389.3 78 L405.6 78 L405.6 169 L411 170 L415 175 L417.8 178 L417.8 284 L425.4 284 L425.4 256 L426.6 230 L430 226 L431.8 184 L434 181 L440 180.5 L444.5 182 L445.5 197 L448 200.5 L450.5 197 L451.5 181 L455 180 L458 179.5 L462 181 L466 184 L470 181 L474 180.5 L478 184.5 L482 180 L487 179.5 L491 183 L495 180.5 L500 182 L505 183 L509 182 L513 183.5 L517 181 L525 181 L528.5 178 L531 176 L536 175.8 L539.5 176.5 L541.5 180 L541.8 185 L542 195 L544 203 L550.6 204 L552 212 L553.9 217 L553.9 258 L552 264 L540 266 L535.5 263 L533.8 252 L533.8 228 L532 216 L528 207 L522 206.5 L516 209 L510 210 L504 213 L497 214.5 L490 213 L484 210.5 L478 210.5 L472 213 L466 211.5 L461 213 L457.5 215 L457.5 308 L455 313 L451 318 L448 321 L436 321 L436 360 L433 366 L428 368.5 L423 367 L419.6 360 L415 357 L415 386 L412 391 L410.3 394 L410.3 408 L408 409 L408 438 L406 450 L401 456.5 L394 457.5 L388 455 L385.5 448 L385.2 372 L384 360 L384 249 L380 247.5 L378 240 L376 233 L373 236 L370 245.6 L354 245.6 L354 301 L351.5 301 L351.5 324.5 L340.5 324.5 L340.5 366.4 L338 366.4 L338 458.4 L335.7 460 L335.7 475.5 L330 476 L330 519.6 L324.3 520 L324.3 531 L320.8 533 L320.8 1181 L317 1183 L314.6 1184 L314.6 1257 L312 1259 L312 1279 L302 1279 L302 860 L303.7 860 L303.7 292 L306 291 L306 247 L309.6 246 L309.6 113 L312 112Z" fill="#008000" stroke="none"/>
<path d="M546 262.9 L548 270.5 L550 280.5 L552 289.5 L554 303.8 L556 322 L558 336 L560 350 L562 371.4 L564 412.9 L566 468.1 L568 497.2 L570 536.5 L572 569.8 L574 595.1 L576 622.7 L578 653.7 L580 696.7 L582 737.7 L584 769 L586 789.9 L588 810 L590 825.6 L592 843 L594 867.8 L596 891.9 L598 909.8 L600 922.8 L602 935.5 L604 943.6 L606 952.2 L608 963.9 L610 977 L612 986.2 L614 995.2 L616 1004.2 L618 1010.5 L620 1016.8 L622 1020.8 L624 1026.7 L626 1030 L628 1035.5 L630 1040.4 L632 1040.6 L634 1044.7 L636 1048 L638 1051.4 L640 1051.1 L642 1054.8 L644 1057.2 L646 1060.5 L648 1059.2 L650 1062.3 L652 1061.4 L654 1064.5 L656 1064.1 L658 1069.4 L660 1068.1 L662 1071.4 L664 1070.4 L666 1074.2 L668 1072.6 L670 1073.3 L672 1075.6 L674 1078.1 L676 1079.2 L678 1078.8 L680 1077.2 L682 1080.9 L684 1080 L686 1083.5 L688 1085.2 L690 1084 L692 1085.2 L694 1083.1 L696 1086.3 L698 1084.8 L700 1088 L702 1087.4 L704 1090.2 L706 1087.2 L708 1088.3 L710 1092.1 L712 1091.9 L714 1092.9 L716 1094.8 L718 1093.4 L720 1095.5 L722 1094.3 L724 1096.8 L726 1095.8 L728 1093.5 L730 1094.9 L732 1097.8 L734 1095.4 L736 1094.9 L738 1096.7 L740 1096.6 L742 1098.1 L744 1097.6 L746 1097.1 L748 1098.3 L750 1098.7 L752 1101.5 L754 1102.3 L756 1101 L758 1098.7 L760 1102.4 L762 1102.5 L764 1103.6 L766 1101.6 L768 1100.6 L770 1103.7 L772 1101.7 L774 1105.2 L776 1105.7 L778 1104.1 L780 1107.1 L782 1103.7 L784 1107.8 L786 1105.8 L788 1107.6 L790 1107.9 L792 1109.3 L794 1109.6 L796 1105.4 L798 1105.6 L800 1108.4 L802 1106.3 L804 1109.6 L806 1109.3 L808 1110.2 L810 1109.4 L812 1108.9 L814 1112.4 L816 1111.6 L818 1108.5 L820 1109.2 L822 1112 L824 1110.7 L826 1111.5 L828 1113.5 L830 1111.8 L832 1114.7 L834 1114 L836 1113.5 L838 1112.1 L840 1113.4 L842 1115.3 L844 1116.6 L846 1112.6 L848 1113.2 L850 1116.2 L852 1116.9 L854 1113.8 L856 1117.4 L858 1117.5 L860 1117.3 L862 1116 L864 1116.8 L866 1116.7 L868 1119.1 L870 1117 L872 1117.3 L874 1120.3 L876 1120.5 L878 1120.9 L880 1120.4 L882 1117.4 L884 1117.7 L886 1119.9 L888 1121.5 L890 1121.8 L892 1120.9 L894 1122.4 L896 1119 L898 1119.5 L900 1120.1 L902 1119.9 L904 1120.3 L906 1119.6 L908 1120.9 L910 1119.5 L912 1121.8 L914 1123.7 L916 1121.7 L918 1122.6 L920 1122.7 L922 1124.2 L924 1123.4 L926 1123.9 L928 1121.9 L930 1124.4 L932 1121.4 L934 1122.4 L936 1123.8 L938 1122.2 L940 1124.5 L942 1124.4 L944 1121.5 L946 1121.8 L948 1121 L950 1124.4 L952 1122.2 L954 1122.3 L956 1121.8 L958 1121.1 L960 1122.5 L962 1121.5 L964 1122.8 L966 1121.2 L968 1122.4 L970 1124.1 L972 1121.7 L974 1124 L976 1120.2 L978 1122.1 L980 1122.2 L982 1123.6 L984 1123.4 L986 1121.6 L988 1122.5 L990 1123.2 L992 1122.1 L994 1122.9 L996 1122.7 L998 1120.7 L1000 1121.3 L1002 1119.1 L1004 1119.9 L1006 1121.4 L1008 1120 L1010 1118.5 L1012 1117.6 L1014 1117.7 L1016 1117 L1018 1117 L1020 1117.3 L1022 1115.6 L1024 1118.3 L1026 1116.2 L1028 1116.4 L1030 1116.3 L1032 1113.9 L1034 1113.3 L1036 1113.1 L1038 1115.9 L1040 1112.1 L1042 1112.9 L1044 1114.2 L1046 1112.6 L1048 1110.1 L1050 1112.9 L1052 1110.6 L1054 1109.3 L1056 1109.4 L1058 1109.9 L1060 1107.3 L1062 1109.1 L1064 1108.4 L1066 1106.4 L1068 1106.6 L1070 1105.2 L1072 1104 L1074 1105.5 L1076 1104.3 L1078 1105.2 L1080 1102.2 L1082 1102.4 L1084 1102.6 L1086 1099.7 L1088 1100 L1090 1100.4 L1092 1098 L1094 1097.6 L1096 1097.6 L1098 1096.2 L1100 1097.1 L1102 1096.3 L1104 1095.4 L1106 1093.2 L1108 1091.6 L1110 1092.5 L1112 1091 L1114 1090.5 L1116 1090.3 L1118 1090.6 L1120 1089.4 L1122 1086.2 L1124 1088.2 L1126 1086.7 L1128 1084.7 L1130 1085.5 L1132 1083.9 L1134 1083.5 L1136 1082.9 L1138 1080.8 L1140 1080.8 L1142 1080.4 L1144 1078.4 L1146 1080 L1148 1077.9 L1150 1077.6 L1152 1078.3 L1154 1077.1 L1156 1074.2 L1158 1073.6 L1160 1073.2 L1162 1070.6 L1164 1071.8 L1166 1069.1 L1168 1067.2 L1170 1068 L1172 1066.2 L1174 1063.4 L1176 1063.9 L1178 1063.3 L1180 1059.5 L1182 1060.3 L1184 1057.6 L1186 1056.9 L1188 1054.3 L1190 1054.1 L1192 1053.6 L1194 1049.8 L1196 1047.4 L1198 1048.5 L1200 1047.7 L1202 1045.5 L1204 1046 L1206 1045.4 L1208 1044.2 L1210 1043.9 L1212 1041.3 L1214 1043 L1216 1041.2 L1218 1040.3 L1220 1040.7 L1222 1041.2 L1224 1039.4 L1226 1037.8 L1228 1037.9 L1230 1037.3 L1232 1038 L1234 1038.1 L1236 1036.2 L1238 1034.7 L1240 1035.4 L1242 1033 L1244 1032.1 L1246 1033.3 L1248 1031.8 L1250 1031.5 L1252 1029.8 L1254 1030.5 L1256 1030.4 L1258 1031.1 L1260 1027.8 L1262 1028.8 L1264 1028.3 L1266 1028.3 L1268 1028.6 L1270 1027.2 L1272 1027.3 L1274 1027 L1276 1027.9 L1278 1028.3 L1280 1026.7 L1282 1028 L1284 1028 L1286 1027.4 L1288 1028.8 L1290 1028.7 L1292 1028.4 L1294 1028.9 L1296 1030.4 L1298 1030.1 L1300 1030.8 L1302 1030.8 L1304 1032.7 L1306 1033.8 L1308 1033.1 L1310 1034.1 L1312 1035.9 L1314 1035.8 L1316 1036.1 L1318 1037.6 L1320 1039.7 L1322 1040.2 L1324 1041.5 L1326 1042.8 L1328 1043.7 L1330 1046 L1332 1046.8 L1334 1048.4 L1336 1048.8 L1338 1050.3 L1340 1051.3 L1342 1053.1 L1344 1052.6 L1346 1053.7 L1348 1054 L1350 1055.3 L1352 1059.1 L1354 1058.9 L1356 1059.1 L1358 1060.3 L1360 1062.7 L1362 1064.4 L1364 1066.2 L1366 1066.8 L1368 1067.4 L1370 1069.8 L1372 1069.8 L1374 1071.6 L1376 1072.5 L1378 1075.5 L1380 1076.7 L1382 1078 L1384 1079 L1386 1082.3 L1388 1082.6 L1390 1085.6 L1392 1085.4 L1394 1088 L1396 1089.9 L1398 1089.8 L1400 1091.3 L1402 1094.4 L1404 1094 L1406 1096.6 L1408 1096.9 L1410 1100.8 L1412 1101.9 L1414 1101.7 L1416 1104.8 L1418 1106 L1420 1105.6 L1422 1107.4 L1424 1109.9 L1426 1111.4 L1428 1111.7 L1430 1112.4 L1432 1114.7 L1434 1116.7 L1436 1117.3 L1438 1117.6 L1440 1119.1 L1442 1121.5 L1444 1121.9 L1446 1123.9 L1448 1123.4 L1450 1125.9 L1452 1127.4 L1454 1128.8 L1456 1128.3 L1458 1131.1 L1460 1131.3 L1462 1131.7 L1464 1132.1 L1466 1135 L1468 1137 L1470 1137.2 L1472 1137.6 L1474 1138.9 L1476 1140.6 L1478 1143.1 L1480 1142.8 L1482 1143.8 L1484 1145.2 L1486 1145.5 L1488 1146.8 L1490 1149.2 L1492 1150.4 L1494 1149.9 L1496 1151.1 L1498 1153 L1500 1153.2 L1502 1153.3 L1504 1155.4 L1506 1156 L1508 1155.6 L1510 1155.6 L1512 1158.3 L1514 1161 L1516 1166.3 L1518 1168.5 L1520 1167.6 L1522 1170.4 L1524 1171.7 L1526 1171 L1528 1171.2 L1530 1173.8 L1532 1173.9 L1534 1173.2 L1536 1174.3 L1538 1173.8 L1540 1174.4 L1542 1175.8 L1544 1176.3 L1546 1177 L1548 1176.7 L1550 1177.4 L1552 1176 L1554 1177.8 L1556 1178.8 L1558 1179 L1560 1179 L1562 1179.7 L1564 1178.9 L1566 1179 L1568 1180.3 L1570 1180.6 L1572 1179.5 L1574 1180.6 L1576 1181.9 L1578 1180.8 L1580 1181.2 L1582 1182.4 L1584 1182.1 L1586 1183.2 L1588 1184.2 L1590 1183.9 L1592 1182.9 L1594 1185.7 L1596 1184.1 L1598 1183.7 L1600 1185.1 L1602 1186.5 L1604 1187 L1606 1184.9 L1608 1185 L1610 1187.4 L1612 1187.6 L1614 1188 L1616 1187.9 L1618 1188.3 L1620 1188.4 L1622 1186.5 L1624 1187.1 L1626 1187 L1628 1187.1 L1630 1190 L1632 1190.3 L1634 1189.3 L1636 1188.4 L1638 1188.6 L1640 1191 L1642 1191.3 L1644 1190.6 L1646 1191.2 L1648 1191.1 L1650 1191.6 L1652 1192.6 L1654 1191.3 L1656 1190.5 L1658 1190.7 L1660 1192.5 L1662 1191.1 L1664 1191.4 L1666 1193.8 L1668 1194.2 L1670 1192 L1672 1192.5 L1674 1194.9 L1676 1194.9 L1678 1194.2 L1680 1194 L1682 1195 L1684 1194.3 L1686 1195.9 L1688 1195.4 L1690 1195.2 L1692 1193.9 L1694 1195.7 L1696 1194.2 L1698 1194.4 L1700 1196.5 L1702 1195.8 L1704 1195.9 L1706 1196.4 L1708 1197 L1710 1197.4 L1712 1195 L1714 1195 L1716 1195.3 L1718 1197.9 L1720 1196.8 L1722 1196.4 L1724 1197.2 L1726 1195.9 L1728 1196.8 L1730 1196.6 L1732 1197.8 L1734 1196.4 L1736 1198.8 L1738 1196.3 L1740 1196.6 L1742 1196.8 L1744 1199.2 L1746 1197.3 L1748 1198.6 L1750 1198.6 L1752 1197.9 L1754 1197.7 L1756 1199.1 L1758 1197.3 L1760 1197.2 L1762 1198.4 L1764 1198.2 L1766 1197.6 L1768 1197.7 L1770 1199 L1772 1200.3 L1774 1199.7 L1776 1198.3 L1778 1198.9 L1780 1199.8 L1782 1198.2 L1784 1198.6 L1786 1198.3 L1788 1199.5 L1790 1199.8 L1792 1200.8 L1794 1198.5 L1796 1198.9 L1798 1199.3 L1800 1199.8 L1802 1199.5 L1804 1201.5 L1806 1199.8 L1808 1201.4 L1810 1201.7 L1812 1199.8 L1814 1199.5 L1816 1201.5 L1818 1199.2 L1820 1199.6 L1822 1199.8 L1824 1199.4 L1826 1201.2 L1828 1199.5 L1830 1200.3 L1832 1201.1 L1834 1201.5 L1836 1200 L1838 1201.3 L1840 1201.8 L1842 1200 L1844 1201.2 L1846 1201 L1848 1200.2 L1850 1201.7 L1852 1200.4 L1854 1202.1 L1856 1201.7 L1858 1202.7 L1860 1201.7 L1862 1202.8 L1864 1201.5 L1866 1201.9 L1868 1202.3 L1870 1202.6 L1872 1201.5 L1874 1200.9 L1876 1202.7 L1878 1203 L1880 1203.3 L1882 1202.6 L1884 1203.2 L1886 1201.5 L1888 1202 L1890 1202.2 L1892 1202.1 L1894 1202.1 L1896 1203 L1898 1203.6 L1900 1202.8 L1902 1203.4 L1904 1203.1 L1906 1203.4 L1908 1203.2 L1910 1201.9 L1912 1204 L1914 1202.1 L1916 1202.4 L1918 1203.2 L1920 1203.6 L1922 1204.3 L1924 1202.2 L1926 1201.9 L1928 1203.5 L1930 1203.5 L1932 1203.9 L1934 1202.4 L1936 1204.1 L1938 1202.1 L1940 1202.3 L1942 1202.5 L1944 1202.3 L1946 1202.2 L1948 1203.9 L1950 1204.8" stroke="#008000" stroke-width="16"/>
<path d="M606 952.2 L608 963.9 L610 977 L612 986.2" stroke="#008000" stroke-width="16.2"/>
<path d="M612 986.2 L614 995.2 L616 1004.2 L618 1010.5" stroke="#008000" stroke-width="16.4"/>
<path d="M618 1010.5 L620 1016.8 L622 1020.8 L624 1026.7" stroke="#008000" stroke-width="16.5"/>
<path d="M624 1026.7 L626 1030 L628 1035.5 L630 1040.4" stroke="#008000" stroke-width="16.7"/>
<path d="M630 1040.4 L632 1040.6 L634 1044.7 L636 1048" stroke="#008000" stroke-width="16.9"/>
<path d="M636 1048 L638 1051.4 L640 1051.1 L642 1054.8" stroke="#008000" stroke-width="17.8"/>
<path d="M642 1054.8 L644 1057.2 L646 1060.5 L648 1059.2" stroke="#008000" stroke-width="19"/>
<path d="M648 1059.2 L650 1062.3 L652 1061.4 L654 1064.5" stroke="#008000" stroke-width="20.2"/>
<path d="M654 1064.5 L656 1064.1 L658 1069.4 L660 1068.1" stroke="#008000" stroke-width="21"/>
<path d="M660 1068.1 L662 1071.4 L664 1070.4 L666 1074.2" stroke="#008000" stroke-width="21.2"/>
<path d="M666 1074.2 L668 1072.6 L670 1073.3 L672 1075.6" stroke="#008000" stroke-width="21.3"/>
<path d="M672 1075.6 L674 1078.1 L676 1079.2 L678 1078.8" stroke="#008000" stroke-width="21.4"/>
<path d="M678 1078.8 L680 1077.2 L682 1080.9 L684 1080" stroke="#008000" stroke-width="21.4"/>
<path d="M684 1080 L686 1083.5 L688 1085.2 L690 1084" stroke="#008000" stroke-width="20.4"/>
<path d="M690 1084 L692 1085.2 L694 1083.1 L696 1086.3" stroke="#008000" stroke-width="19.6"/>
<path d="M696 1086.3 L698 1084.8 L700 1088 L702 1087.4" stroke="#008000" stroke-width="18.6"/>
<path d="M702 1087.4 L704 1090.2 L706 1087.2 L708 1088.3" stroke="#008000" stroke-width="18.1"/>
<path d="M708 1088.3 L710 1092.1 L712 1091.9 L714 1092.9" stroke="#008000" stroke-width="17.6"/>
<path d="M714 1092.9 L716 1094.8 L718 1093.4 L720 1095.5" stroke="#008000" stroke-width="17.1"/>
<path d="M720 1095.5 L722 1094.3 L724 1096.8 L726 1095.8" stroke="#008000" stroke-width="16.6"/>
</g>
<g font-family="Liberation Sans, Arial, sans-serif" font-weight="bold" fill="#000">
<text transform="translate(261 1294.8) scale(1 1.04)" font-size="68" text-anchor="end">0.0</text>
<text transform="translate(261 1095.3) scale(1 1.04)" font-size="68" text-anchor="end">0.2</text>
<text transform="translate(261 895.7) scale(1 1.04)" font-size="68" text-anchor="end">0.4</text>
<text transform="translate(261 696.2) scale(1 1.04)" font-size="68" text-anchor="end">0.6</text>
<text transform="translate(261 496.6) scale(1 1.04)" font-size="68" text-anchor="end">0.8</text>
<text transform="translate(261 297.1) scale(1 1.04)" font-size="68" text-anchor="end">1.0</text>
<text transform="translate(261 97.5) scale(1 1.04)" font-size="68" text-anchor="end">1.2</text>
<text transform="translate(300.2 1368.6) scale(0.983 1.04)" font-size="68" text-anchor="middle">300</text>
<text transform="translate(483.2 1368.6) scale(0.983 1.04)" font-size="68" text-anchor="middle">350</text>
<text transform="translate(666.1 1368.6) scale(0.983 1.04)" font-size="68" text-anchor="middle">400</text>
<text transform="translate(849.1 1368.6) scale(0.983 1.04)" font-size="68" text-anchor="middle">450</text>
<text transform="translate(1032.1 1368.6) scale(0.983 1.04)" font-size="68" text-anchor="middle">500</text>
<text transform="translate(1215.1 1368.6) scale(0.983 1.04)" font-size="68" text-anchor="middle">550</text>
<text transform="translate(1398 1368.6) scale(0.983 1.04)" font-size="68" text-anchor="middle">600</text>
<text transform="translate(1581 1368.6) scale(0.983 1.04)" font-size="68" text-anchor="middle">650</text>
<text transform="translate(1764 1368.6) scale(0.983 1.04)" font-size="68" text-anchor="middle">700</text>
<text transform="translate(1947 1368.6) scale(0.983 1.04)" font-size="68" text-anchor="middle">750</text>
<text transform="translate(1124.3 1480.6) scale(1.013 0.985)" font-size="93.5" text-anchor="middle">Wavelength (nm)</text>
<text transform="translate(121 743.4) rotate(-90) scale(0.975 1)" font-size="101" text-anchor="middle">Absorbance</text>
</g>
<path d="M1372 148H1530" stroke="#000000" stroke-width="16" stroke-linecap="round"/>
<text transform="translate(1570 170.3) scale(0.992 1.02)" font-family="Liberation Sans, Arial, sans-serif" font-weight="bold" font-size="68" fill="#000000">TiO<tspan font-size="45" dx="0.5" dy="28.6" font-weight="bold">2</tspan></text>
<path d="M1372 258.4H1530" stroke="#ff0000" stroke-width="16" stroke-linecap="round"/>
<text transform="translate(1570 280.8) scale(0.992 1.02)" font-family="Liberation Sans, Arial, sans-serif" font-weight="bold" font-size="68" fill="#ff0000">5-Au/TiO<tspan font-size="45.5" dx="1" dy="28.3" font-weight="normal">2</tspan></text>
<path d="M1372 367H1530" stroke="#0000ff" stroke-width="16" stroke-linecap="round"/>
<text transform="translate(1570 391.7) scale(0.992 1.02)" font-family="Liberation Sans, Arial, sans-serif" font-weight="bold" font-size="68" fill="#0000ff">10-Au/TiO<tspan font-size="45" dx="2.5" dy="26" font-weight="bold">2</tspan></text>
<path d="M1372 477H1530" stroke="#008000" stroke-width="16" stroke-linecap="round"/>
<text transform="translate(1570 501.9) scale(0.992 1.02)" font-family="Liberation Sans, Arial, sans-serif" font-weight="bold" font-size="68" fill="#008000">15-Au/TiO<tspan font-size="45" dx="2.5" dy="26" font-weight="bold">2</tspan></text>
</svg>
</body></html>
